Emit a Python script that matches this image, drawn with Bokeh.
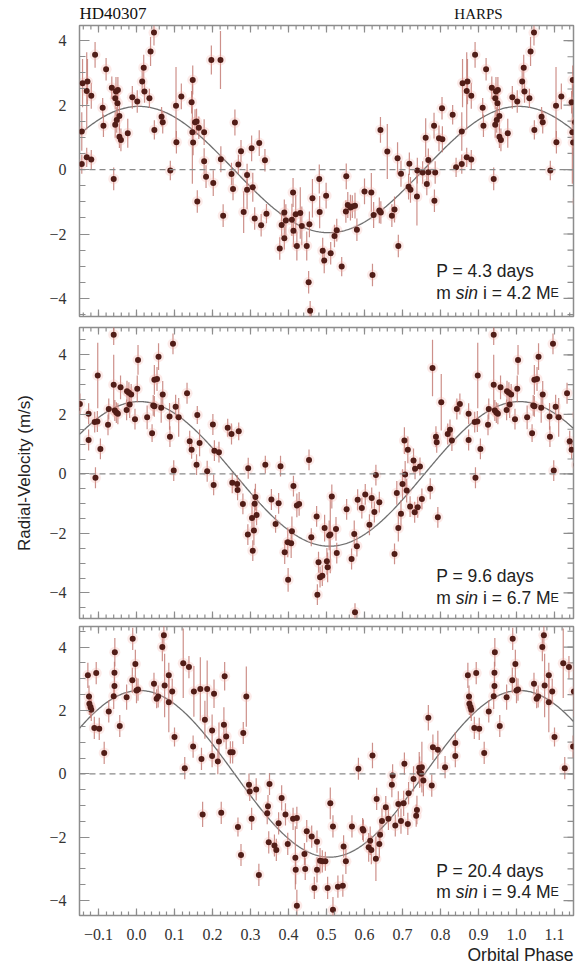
import numpy as np
from bokeh.plotting import figure
from bokeh.models import (ColumnDataSource, Range1d, FixedTicker,
                          CustomJSTickFormatter, Span, Label, Title)
from bokeh.layouts import column
from bokeh.embed import file_html
from bokeh.resources import INLINE

# ---------------- data ----------------
star_name = "HD40307"
instrument = "HARPS"
x_tick_values = [-0.1, 0.0, 0.1, 0.2, 0.3, 0.4, 0.5, 0.6, 0.7, 0.8, 0.9, 1.0, 1.1]
y_tick_values = [-4, -2, 0, 2, 4]
periods = ["4.3", "9.6", "20.4"]
msini = ["4.2", "6.7", "9.4"]
amplitudes = [1.96, 2.43, 2.63]        # fitted semi-amplitudes (m/s)
peak_phase = [0.006, 0.008, 0.008]

# panel 1 : P = 4.3 d
b_phase = [0.002, 0.015, 0.019, 0.021, 0.034, 0.037, 0.046, 0.047, 0.066, 0.069,
           0.089, 0.104, 0.105, 0.118, 0.145, 0.148, 0.147, 0.149, 0.154, 0.158,
           0.164, 0.160, 0.178, 0.178, 0.183, 0.197, 0.202, 0.221, 0.222, 0.228,
           0.259, 0.250, 0.254, 0.268, 0.275, 0.282, 0.291, 0.291, 0.303, 0.306,
           0.311, 0.323, 0.328, 0.338, 0.342, 0.377, 0.382, 0.389, 0.389, 0.393,
           0.409, 0.412, 0.413, 0.419, 0.422, 0.431, 0.435, 0.448, 0.453, 0.455,
           0.457, 0.463, 0.481, 0.482, 0.490, 0.494, 0.499, 0.511, 0.521, 0.527,
           0.540, 0.551, 0.552, 0.556, 0.563, 0.568, 0.575, 0.580, 0.600, 0.618,
           0.621, 0.624, 0.639, 0.642, 0.643, 0.660, 0.672, 0.679, 0.689, 0.687,
           0.696, 0.716, 0.718, 0.721, 0.738, 0.739, 0.753, 0.761, 0.764, 0.768,
           0.768, 0.783, 0.784, 0.786, 0.796, 0.804, 0.805, 0.832, 0.841, 0.856,
           0.856, 0.858, 0.869, 0.871, 0.869, 0.881, 0.881, 0.891, 0.911, 0.913,
           0.920, 0.935, 0.940, 0.944, 0.946, 0.944, 0.948, 0.950, 0.951, 0.955,
           0.955, 0.959, 0.977, 0.989]
b_rv = [2.11, 2.73, 3.16, 2.42, 2.21, 3.66, 4.25, 1.23, 1.64, 1.47,
        -0.03, 1.98, 0.85, 2.27, 2.09, 2.78, 1.16, 0.84, 1.47, 1.49,
        1.30, -0.99, 1.16, 0.26, -0.22, 3.40, -0.42, 3.40, 0.32, -1.43,
        1.46, -0.14, -0.60, 0.16, 0.57, -1.32, -0.17, -0.63, 0.66, -0.55,
        -1.52, 0.82, -1.73, 0.29, -1.37, -2.45, -1.72, -2.13, -1.33, -1.58,
        -1.56, -0.71, -1.90, -1.39, -2.37, -1.35, -1.75, -2.37, -3.50, -1.70,
        -4.38, -0.89, -0.29, -1.32, -2.52, -2.82, -0.81, -2.60, -2.06, -1.88,
        -3.01, -1.30, -0.21, -1.10, -1.18, -1.15, -1.12, -1.87, -0.68, -0.71,
        -3.27, -1.41, -1.27, 1.23, -1.33, 0.56, -1.43, -1.24, -2.37, 0.35,
        -0.13, -0.53, 0.18, -0.63, -0.84, -0.03, -0.09, 0.99, -0.45, 0.30,
        -0.08, 1.36, -0.97, -0.09, 0.97, 1.90, 0.94, 1.70, 0.07, 0.17,
        1.18, 2.68, 0.38, 2.73, 2.44, 0.31, 2.29, 3.56, 1.92, 1.36,
        3.11, 2.54, -0.29, 2.21, 2.42, 1.39, 1.54, 2.06, 2.47, 1.66,
        1.02, 0.92, 1.13, 2.24]
b_err = [0.35, 0.35, 0.40, 0.35, 0.30, 0.45, 0.40, 0.30, 0.30, 0.35,
         0.30, 1.20, 0.35, 0.40, 0.35, 0.45, 1.60, 0.40, 0.40, 0.40,
         0.35, 0.35, 0.40, 0.40, 0.35, 0.45, 0.40, 0.90, 0.40, 0.35,
         0.40, 0.35, 0.35, 0.30, 0.35, 0.65, 0.35, 0.60, 0.40, 0.45,
         0.35, 0.40, 0.35, 0.35, 0.30, 0.35, 0.35, 0.35, 0.40, 0.50,
         0.50, 0.45, 0.50, 0.60, 0.45, 0.80, 0.60, 0.45, 0.35, 0.40,
         0.30, 0.60, 0.45, 0.50, 0.40, 0.40, 0.40, 0.35, 0.35, 0.35,
         0.30, 0.35, 0.40, 0.40, 0.40, 0.35, 0.40, 0.35, 0.40, 0.60,
         0.35, 0.40, 0.40, 0.40, 0.35, 0.85, 0.35, 0.40, 0.35, 0.50,
         0.40, 0.40, 0.35, 0.40, 0.90, 0.40, 0.35, 0.60, 0.35, 0.35,
         0.35, 0.40, 0.35, 0.35, 0.40, 0.35, 0.40, 0.30, 0.30, 0.30,
         0.60, 0.75, 0.30, 0.70, 1.20, 0.30, 0.40, 0.40, 0.30, 0.35,
         0.35, 0.35, 0.35, 0.35, 0.45, 0.40, 0.40, 0.45, 0.40, 0.45,
         0.35, 0.35, 0.45, 0.35]

# panel 2 : P = 9.6 d
c_phase = [0.002, 0.004, 0.028, 0.041, 0.044, 0.047, 0.047, 0.054, 0.058, 0.065,
           0.069, 0.087, 0.088, 0.096, 0.098, 0.103, 0.111, 0.133, 0.140, 0.145,
           0.158, 0.160, 0.166, 0.186, 0.201, 0.203, 0.205, 0.217, 0.240, 0.250,
           0.252, 0.265, 0.266, 0.269, 0.280, 0.293, 0.294, 0.304, 0.306, 0.309,
           0.311, 0.313, 0.316, 0.339, 0.355, 0.366, 0.374, 0.379, 0.390, 0.398,
           0.399, 0.409, 0.407, 0.413, 0.422, 0.428, 0.454, 0.460, 0.474, 0.476,
           0.479, 0.483, 0.489, 0.495, 0.501, 0.503, 0.507, 0.510, 0.514, 0.525,
           0.527, 0.553, 0.566, 0.573, 0.580, 0.575, 0.582, 0.593, 0.602, 0.613,
           0.619, 0.626, 0.630, 0.639, 0.679, 0.685, 0.689, 0.696, 0.700, 0.705,
           0.707, 0.711, 0.714, 0.720, 0.729, 0.732, 0.733, 0.740, 0.746, 0.751,
           0.773, 0.793, 0.788, 0.790, 0.779, 0.802, 0.819, 0.825, 0.830, 0.843,
           0.851, 0.874, 0.874, 0.892, 0.898, 0.890, 0.897, 0.905, 0.925, 0.927,
           0.940, 0.940, 0.943, 0.947, 0.951, 0.958, 0.974, 0.975, 0.980, 0.982,
           0.986, 0.996]
c_rv = [2.86, 3.83, 1.90, 1.37, 2.30, 2.27, 3.16, 3.19, 3.94, 2.22,
        2.67, 1.93, 1.25, 4.37, 0.11, 2.26, 1.90, 2.71, 1.10, 0.81,
        0.31, 1.98, 1.04, 0.09, 1.66, -0.37, 0.78, 0.73, 1.55, 1.34,
        -0.30, -0.34, -0.54, 1.43, -1.01, -2.04, 0.19, -1.48, -2.58, -1.90,
        -1.00, -0.78, -1.38, 0.31, -0.86, -1.68, -0.99, 0.26, -2.63, -2.30,
        -3.56, -1.93, -2.33, -0.41, -1.06, -1.01, 0.47, -2.13, -1.43, -4.06,
        -2.97, -3.47, -3.42, -1.82, -2.94, -3.14, -2.07, -2.04, -0.76, -1.85,
        -2.66, -1.19, -2.86, -2.02, -2.43, -4.65, -0.87, -1.15, -0.69, -1.71,
        -0.81, -1.28, -0.04, -0.95, -2.69, -0.64, -1.82, -1.34, -0.34, 1.12,
        -0.02, -0.56, 0.81, -1.10, 0.45, -1.29, 0.17, -1.12, 0.25, -0.84,
        -0.50, -1.46, 1.25, 1.06, 3.56, 2.41, 1.34, 1.48, 1.12, 2.18,
        2.35, 2.02, 1.14, -0.13, 3.31, 1.74, 1.76, 0.84, 1.65, 2.18,
        4.68, 3.00, 2.13, 2.06, 2.02, 2.91, 2.15, 2.78, 2.73, 2.33,
        2.67, 1.84]
c_err = [0.45, 0.50, 0.40, 0.30, 0.35, 0.35, 0.50, 0.40, 0.45, 0.50,
         0.45, 0.45, 0.35, 0.35, 0.35, 0.40, 0.65, 0.35, 0.35, 0.30,
         0.35, 0.30, 0.45, 0.35, 0.35, 0.35, 0.35, 0.35, 0.30, 0.35,
         0.35, 0.30, 0.35, 0.30, 0.35, 0.35, 0.35, 0.50, 0.35, 0.50,
         0.50, 0.45, 0.35, 0.30, 0.35, 0.30, 0.35, 0.35, 0.40, 0.50,
         0.40, 0.50, 0.50, 0.35, 0.40, 0.40, 0.35, 0.30, 0.35, 0.35,
         0.35, 0.35, 0.35, 0.45, 0.45, 0.50, 0.50, 1.30, 0.40, 0.40,
         0.35, 0.35, 0.35, 0.45, 0.35, 0.30, 0.35, 0.35, 0.35, 0.35,
         0.35, 0.35, 0.35, 0.35, 0.35, 0.40, 0.45, 0.45, 0.50, 0.45,
         0.45, 0.40, 0.45, 0.35, 0.40, 0.35, 0.35, 0.35, 0.30, 0.35,
         0.35, 0.35, 0.35, 0.35, 0.95, 0.95, 0.35, 0.35, 0.35, 0.35,
         0.35, 0.35, 0.35, 0.35, 1.10, 0.35, 0.35, 0.35, 0.35, 0.35,
         0.35, 1.00, 0.35, 0.35, 0.35, 0.40, 0.35, 0.35, 0.35, 0.45,
         0.35, 0.35]

# panel 3 : P = 20.4 d
d_phase = [0.000, 0.004, 0.046, 0.053, 0.057, 0.068, 0.072, 0.074, 0.085, 0.085,
           0.094, 0.100, 0.123, 0.127, 0.138, 0.149, 0.151, 0.168, 0.171, 0.174,
           0.180, 0.186, 0.199, 0.199, 0.204, 0.214, 0.217, 0.223, 0.230, 0.232,
           0.236, 0.247, 0.253, 0.267, 0.275, 0.281, 0.289, 0.296, 0.298, 0.303,
           0.315, 0.322, 0.344, 0.346, 0.350, 0.348, 0.363, 0.368, 0.374, 0.382,
           0.392, 0.398, 0.412, 0.422, 0.418, 0.419, 0.422, 0.442, 0.444, 0.448,
           0.461, 0.468, 0.475, 0.475, 0.483, 0.489, 0.497, 0.503, 0.510, 0.517,
           0.517, 0.530, 0.543, 0.545, 0.551, 0.567, 0.584, 0.595, 0.597, 0.611,
           0.615, 0.618, 0.621, 0.630, 0.632, 0.639, 0.641, 0.646, 0.656, 0.663,
           0.672, 0.674, 0.681, 0.689, 0.696, 0.703, 0.705, 0.714, 0.716, 0.729,
           0.736, 0.738, 0.744, 0.745, 0.751, 0.755, 0.749, 0.768, 0.777, 0.780,
           0.793, 0.812, 0.839, 0.839, 0.872, 0.894, 0.875, 0.876, 0.879, 0.881,
           0.889, 0.902, 0.915, 0.927, 0.940, 0.942, 0.942, 0.943, 0.956, 0.974,
           0.989, 0.990, 0.997]
d_rv = [2.63, 2.66, 2.84, 2.37, 2.44, 4.00, 4.37, 2.79, 3.11, 2.26,
        2.60, 1.16, 3.49, 0.18, 3.37, 0.86, 2.60, 2.68, 0.47, -1.28,
        1.71, 2.68, 1.37, 0.56, 2.53, 0.39, 1.02, -1.23, 1.55, 3.08,
        1.18, 0.68, 0.68, -1.68, -2.56, 1.29, 2.44, -0.34, -0.56, -1.42,
        -0.49, -3.19, -1.24, -1.02, -0.32, -2.16, -2.26, -2.40, -1.56, -0.76,
        -1.28, -2.21, -1.42, -1.39, -2.65, -3.03, -4.16, -2.53, -3.00, -1.81,
        -1.98, -3.60, -2.14, -3.03, -2.74, -2.76, -2.76, -3.60, -0.93, -1.66,
        -4.29, -3.56, -3.53, -2.29, -2.76, -1.66, 0.16, -1.74, -1.79, -2.32,
        -2.11, -2.40, 0.58, -2.68, -0.79, -2.21, -1.92, -1.49, -1.05, -1.42,
        -0.34, -0.05, -1.63, -0.95, -1.49, -0.93, 0.32, -1.58, -0.61, -0.16,
        -1.32, -1.14, 0.19, 0.05, 0.21, -0.21, 0.00, 1.77, -0.37, 0.84,
        0.76, 0.21, 0.97, 0.56, 3.11, 3.18, 2.44, 2.21, 2.11, 2.02,
        1.45, 1.42, 0.66, 1.97, 2.45, 2.77, 3.19, 3.84, 1.51, 2.42,
        2.95, 4.26, 3.47]
d_err = [0.40, 0.35, 0.35, 0.30, 0.35, 0.45, 0.50, 1.00, 0.40, 0.95,
         0.40, 0.30, 1.10, 0.35, 0.35, 0.35, 0.80, 1.00, 0.35, 0.40,
         0.60, 0.90, 0.50, 0.35, 0.45, 0.40, 0.60, 0.35, 0.55, 0.45,
         0.40, 0.35, 0.35, 0.30, 0.35, 0.35, 0.95, 0.35, 0.30, 0.35,
         0.35, 0.35, 0.35, 0.35, 0.35, 0.35, 0.35, 0.35, 0.35, 0.40,
         0.35, 0.35, 0.35, 0.35, 1.00, 0.45, 0.50, 0.35, 0.35, 0.35,
         0.35, 0.35, 0.35, 0.40, 0.40, 0.35, 0.30, 0.35, 0.50, 0.35,
         0.40, 0.35, 0.35, 0.35, 0.40, 0.35, 0.35, 0.35, 0.35, 0.45,
         0.45, 0.45, 0.40, 0.70, 0.35, 0.45, 0.40, 0.40, 0.35, 0.35,
         0.40, 0.35, 0.35, 0.40, 0.40, 0.40, 0.35, 0.35, 0.35, 0.40,
         0.35, 0.45, 0.50, 0.50, 0.80, 0.50, 0.40, 0.40, 0.35, 0.40,
         0.60, 0.35, 0.35, 0.35, 0.40, 0.35, 0.35, 0.35, 0.35, 0.35,
         0.35, 0.35, 0.35, 0.35, 0.40, 0.35, 0.35, 0.45, 0.35, 0.40,
         0.40, 0.35, 0.45]

# ---------------- style ----------------
SERIF = "Liberation Serif"
SANS = "Liberation Sans"
FRAME = "#8d8d8d"
X_RANGE = (-0.15, 1.15)
y_ranges = [(-4.56, 4.47), (-4.86, 4.92), (-4.47, 4.65)]
# (height, border_top, border_bottom)
geoms = [(297, 1, 5), (301, 6, 4), (351, 4, 58)]
label_y = [(-3.16, -3.84), (-3.42, -4.16), (-3.05, -3.72)]

x_minor = [float(v) for v in np.round(np.arange(-0.14, 1.15, 0.02), 3)]
y_minor = [float(v) for v in np.arange(-4.5, 4.51, 0.5)]

xfmt = CustomJSTickFormatter(code='return (tick < -1e-9 ? "\\u2212" : "") + Math.abs(tick).toFixed(1);')
yfmt = CustomJSTickFormatter(code='return (tick < -1e-9 ? "\\u2212" : "") + Math.abs(tick).toFixed(0);')

XMAJ, XMIN, YMAJ, YMIN = 7, 4, 10, 6


def style_axis(ax, ticks, minor, fmt, tick_len, min_len):
    ax.ticker = FixedTicker(ticks=ticks, minor_ticks=minor)
    ax.formatter = fmt
    ax.axis_line_color = None
    ax.major_tick_in = tick_len
    ax.major_tick_out = 0
    ax.minor_tick_in = min_len
    ax.minor_tick_out = 0
    ax.major_tick_line_color = FRAME
    ax.minor_tick_line_color = FRAME
    ax.major_tick_line_width = 1.2
    ax.minor_tick_line_width = 1.2
    ax.major_label_text_font = SERIF
    ax.major_label_text_font_size = "16px"
    ax.major_label_text_color = "#333333"
    ax.major_label_standoff = 13


def edge_ticks(p, xs, y, angle, length):
    p.ray(x=xs, y=[y] * len(xs), length=length, length_units="screen",
          angle=angle, line_color=FRAME, line_width=1.2)


def expand(phase, rv, err):
    xs, ys, es = [], [], []
    for ph, v, e in zip(phase, rv, err):
        for shift in (-1.0, 0.0, 1.0):
            xx = ph + shift
            if X_RANGE[0] - 0.01 <= xx <= X_RANGE[1] + 0.01:
                xs.append(xx)
                ys.append(v)
                es.append(e)
    xs, ys, es = np.array(xs), np.array(ys), np.array(es)
    return ColumnDataSource(dict(x=xs, y=ys, lo=ys - es, hi=ys + es))


def make_panel(i, phase, rv, err):
    h, bt, bb = geoms[i]
    ylo, yhi = y_ranges[i]
    p = figure(width=578, height=h, output_backend="svg", toolbar_location=None,
               x_range=Range1d(*X_RANGE), y_range=Range1d(ylo, yhi),
               x_axis_location="below" if i == 2 else None,
               min_border_left=79, min_border_right=5,
               min_border_top=bt, min_border_bottom=bb)
    p.background_fill_color = "white"
    p.border_fill_color = "white"
    p.outline_line_color = FRAME
    p.outline_line_width = 1.5
    p.xgrid.visible = False
    p.ygrid.visible = False

    style_axis(p.yaxis[0], y_tick_values, y_minor, yfmt, YMAJ, YMIN)
    if i == 2:
        style_axis(p.xaxis[0], x_tick_values, x_minor, xfmt, XMAJ, XMIN)
    else:
        edge_ticks(p, x_tick_values, ylo, np.pi / 2, XMAJ)
        edge_ticks(p, x_minor, ylo, np.pi / 2, XMIN)
    # top and right tick marks (no labels)
    edge_ticks(p, x_tick_values, yhi, -np.pi / 2, XMAJ)
    edge_ticks(p, x_minor, yhi, -np.pi / 2, XMIN)
    p.ray(x=[X_RANGE[1]] * len(y_tick_values), y=y_tick_values, length=YMAJ,
          length_units="screen", angle=np.pi, line_color=FRAME, line_width=1.2)
    p.ray(x=[X_RANGE[1]] * len(y_minor), y=y_minor, length=YMIN,
          length_units="screen", angle=np.pi, line_color=FRAME, line_width=1.2)

    p.add_layout(Span(location=0, dimension="width", line_color="#8a8a8a",
                      line_dash="6 4", line_width=1.2))

    xc = np.linspace(X_RANGE[0], X_RANGE[1], 500)
    yc = amplitudes[i] * np.cos(2 * np.pi * (xc - peak_phase[i]))
    p.line(xc, yc, line_color="#6f6f6f", line_width=1.3)

    src = expand(phase, rv, err)
    p.segment(x0="x", y0="lo", x1="x", y1="hi", source=src,
              line_color="#c47d75", line_width=1.2, line_alpha=0.85)
    p.scatter("x", "y", source=src, size=11, fill_color="#f2aaa2",
              fill_alpha=0.25, line_color=None)
    p.scatter("x", "y", source=src, size=6, fill_color="#521d17",
              line_color=None)

    # annotation (pieces laid out with pixel offsets)
    lx = 0.789
    y1, y2 = label_y[i]
    common = dict(text_font=SANS, text_color="#222222", text_baseline="alphabetic")
    p.add_layout(Label(x=lx, y=y1, text=f"P = {periods[i]} days",
                       text_font_size="17.5px", **common))
    p.add_layout(Label(x=lx, y=y2, text="m", text_font_size="17.5px", **common))
    p.add_layout(Label(x=lx, y=y2, x_offset=19.4, text="sin", text_font_size="17.5px",
                       text_font_style="italic", **common))
    p.add_layout(Label(x=lx, y=y2, x_offset=46.7, text=f"i = {msini[i]} M",
                       text_font_size="17.5px", **common))
    p.add_layout(Label(x=lx, y=y2, x_offset=114.3, text="E",
                       text_font_size="12.5px", **common))
    return p


# header strip with the star and instrument names
header = figure(width=578, height=24, output_backend="svg", toolbar_location=None,
                x_range=Range1d(*X_RANGE), y_range=Range1d(24, 0),
                x_axis_location=None, y_axis_location=None,
                min_border_left=79, min_border_right=5,
                min_border_top=0, min_border_bottom=0)
header.outline_line_color = None
header.xgrid.visible = False
header.ygrid.visible = False
header.background_fill_color = "white"
header.border_fill_color = "white"
header.text(x=[X_RANGE[0]], y=[13], text=[star_name], text_font={"value": SERIF},
            text_font_size="17px", text_color="#111111",
            text_baseline="middle", text_align="left")
header.text(x=[0.90], y=[13], text=[instrument], text_font={"value": SERIF},
            text_font_size="15px", text_color="#111111",
            text_baseline="middle", text_align="center")

p1 = make_panel(0, b_phase, b_rv, b_err)
p2 = make_panel(1, c_phase, c_rv, c_err)
p3 = make_panel(2, d_phase, d_rv, d_err)

p2.yaxis[0].axis_label = "Radial-Velocity (m/s)"
p2.yaxis[0].axis_label_text_font = SANS
p2.yaxis[0].axis_label_text_font_size = "17px"
p2.yaxis[0].axis_label_text_font_style = "normal"
p2.yaxis[0].axis_label_text_color = "#222222"
p2.yaxis[0].axis_label_standoff = 12

p3.add_layout(Title(text="Orbital Phase", align="right", text_font=SANS,
                    text_font_size="17.5px", text_font_style="normal",
                    text_color="#222222", standoff=0), "below")

layout = column(header, p1, p2, p3, spacing=0)
open("out.html", "w").write(file_html(layout, INLINE))
